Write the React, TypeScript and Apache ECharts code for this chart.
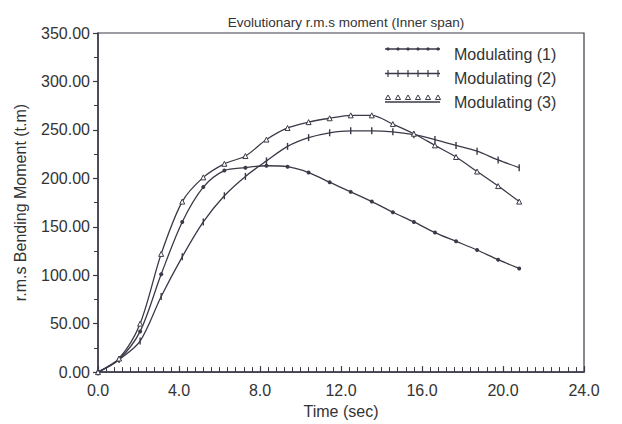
import React, { useEffect, useRef } from "react";
import * as echarts from "echarts";

const TITLE = "Evolutionary r.m.s moment (Inner span)";
const SERIES_NAMES = ["Modulating (1)", "Modulating (2)", "Modulating (3)"];
const TIME = [0, 1.04, 2.08, 3.12, 4.16, 5.2, 6.24, 7.28, 8.32, 9.36, 10.4, 11.44, 12.48, 13.52, 14.56, 15.6, 16.64, 17.68, 18.72, 19.76, 20.8];
const MOD1 = [0, 13, 42, 101, 155, 191, 208, 211, 213, 212, 206, 196, 186, 176, 165, 155, 144, 135, 126, 116, 107];
const MOD2 = [0, 13, 32, 78, 119, 155, 182, 202, 218, 233, 242, 247, 249, 249, 248, 245, 240, 234, 228, 219, 211];
const MOD3 = [0, 14, 50, 122, 176, 201, 215, 223, 240, 252, 258, 262, 265, 265, 256, 246, 234, 222, 207, 192, 176];

const INK = "#3a3a48";
const TEXT = "#333333";
const FONT = "'Liberation Sans', Arial, sans-serif";

// legend sample layout (drawn as graphics next to the legend texts)
const LEG_X0 = 385;
const LEG_X1 = 440;
const LEG_ROWS = [49, 73.5, 98];
const LEG_MARKS = [388, 398, 408, 418, 428, 438];

function legendSamples() {
  const els: any[] = [];
  const line = (y: number) => ({
    type: "line",
    shape: { x1: LEG_X0, y1: y, x2: LEG_X1, y2: y },
    style: { stroke: INK, lineWidth: 1.3 },
    silent: true,
  });
  els.push(line(LEG_ROWS[0]));
  LEG_MARKS.forEach((x) =>
    els.push({ type: "circle", shape: { cx: x, cy: LEG_ROWS[0], r: 1.6 }, style: { fill: INK }, silent: true })
  );
  els.push(line(LEG_ROWS[1]));
  LEG_MARKS.forEach((x) =>
    els.push({
      type: "line",
      shape: { x1: x, y1: LEG_ROWS[1] - 3.5, x2: x, y2: LEG_ROWS[1] + 3.5 },
      style: { stroke: INK, lineWidth: 1.2 },
      silent: true,
    })
  );
  els.push(line(LEG_ROWS[2] + 4));
  LEG_MARKS.forEach((x) =>
    els.push({
      type: "polygon",
      shape: { points: [[x, LEG_ROWS[2] - 3], [x + 2.6, LEG_ROWS[2] + 1.5], [x - 2.6, LEG_ROWS[2] + 1.5]] },
      style: { fill: "#ffffff", stroke: INK, lineWidth: 1 },
      silent: true,
    })
  );
  return els;
}

export default function App() {
  const ref = useRef<HTMLDivElement>(null);
  useEffect(() => {
    if (!ref.current) return;
    const chart = echarts.init(ref.current, undefined, { renderer: "svg" });
    const mk = (vals: number[]) => TIME.map((t, i) => [t, vals[i]]);
    chart.setOption({
      animation: false,
      backgroundColor: "#ffffff",
      textStyle: { fontFamily: FONT, color: TEXT },
      title: {
        text: TITLE,
        left: 341,
        textAlign: "center",
        top: 10,
        textStyle: { fontSize: 13.5, fontWeight: "normal", color: TEXT, fontFamily: FONT },
      },
      legend: {
        orient: "vertical",
        left: 388,
        top: 41,
        itemWidth: 55,
        itemHeight: 10,
        itemGap: 8,
        textStyle: { fontSize: 16, color: TEXT, fontFamily: FONT },
        data: SERIES_NAMES.map((n) => ({ name: n, icon: "rect", itemStyle: { opacity: 0 } })),
        selectedMode: false,
      },
      graphic: legendSamples(),
      grid: {
        left: 98,
        right: 38,
        top: 33,
        bottom: 48,
        show: true,
        borderColor: INK,
        borderWidth: 1.2,
        backgroundColor: "transparent",
      },
      xAxis: {
        type: "value",
        min: 0,
        max: 24,
        interval: 4,
        name: "Time (sec)",
        nameLocation: "middle",
        nameGap: 28,
        nameTextStyle: { fontSize: 16, color: TEXT, fontFamily: FONT },
        axisLine: { lineStyle: { color: INK, width: 1.5 } },
        axisTick: { show: true, inside: true, length: 6, lineStyle: { color: INK, width: 1.2 } },
        minorTick: { show: true, splitNumber: 10, length: 5, lineStyle: { color: INK, width: 1 } },
        splitLine: { show: false },
        axisLabel: { fontSize: 16, color: TEXT, margin: 10, formatter: (v: number) => v.toFixed(1), fontFamily: FONT },
      },
      yAxis: {
        type: "value",
        min: 0,
        max: 350,
        interval: 50,
        name: "r.m.s Bending Moment (t.m)",
        nameLocation: "middle",
        nameGap: 70,
        nameRotate: 90,
        nameTextStyle: { fontSize: 16, color: TEXT, fontFamily: FONT },
        axisLine: { show: true, lineStyle: { color: INK, width: 1.5 } },
        axisTick: { show: true, inside: false, length: 5, lineStyle: { color: INK, width: 1.2 } },
        minorTick: { show: true, splitNumber: 2, length: 4, lineStyle: { color: INK, width: 1 } },
        splitLine: { show: false },
        axisLabel: { fontSize: 16, color: TEXT, margin: 8, formatter: (v: number) => v.toFixed(2), fontFamily: FONT },
      },
      series: [
        {
          name: SERIES_NAMES[0],
          type: "line",
          data: mk(MOD1),
          smooth: 0.3,
          symbol: "circle",
          symbolSize: 4,
          lineStyle: { color: INK, width: 1.3 },
          itemStyle: { color: INK },
        },
        {
          name: SERIES_NAMES[1],
          type: "line",
          data: mk(MOD2),
          smooth: 0.3,
          symbol: "path://M4.4,0h1.2v10h-1.2z",
          symbolSize: [1.4, 7],
          lineStyle: { color: INK, width: 1.3 },
          itemStyle: { color: INK },
        },
        {
          name: SERIES_NAMES[2],
          type: "line",
          data: mk(MOD3),
          smooth: 0.3,
          symbol: "triangle",
          symbolSize: 5,
          lineStyle: { color: INK, width: 1.3 },
          itemStyle: { color: "#ffffff", borderColor: INK, borderWidth: 1 },
        },
      ],
    });
    return () => chart.dispose();
  }, []);
  return <div ref={ref} style={{ position: "fixed", left: 0, top: 0, width: 622, height: 424 }} />;
}
